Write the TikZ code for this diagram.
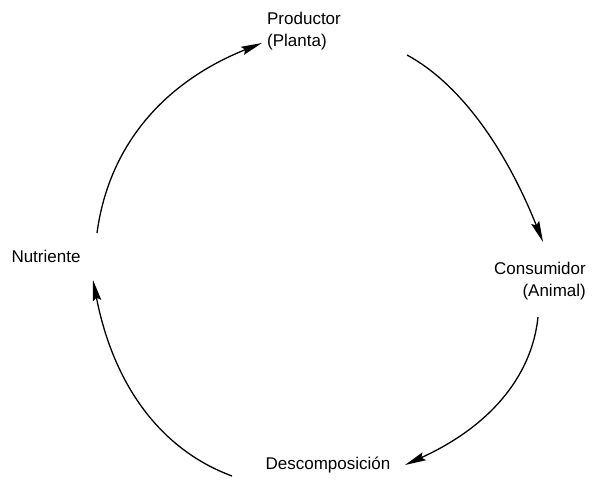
\documentclass[tikz,border=0pt]{standalone}
\usepackage{fontspec}
\setmainfont{Liberation Sans}
\usetikzlibrary{arrows.meta}
\begin{document}
\begin{tikzpicture}[x=1pt,y=-1pt,
  lbl/.style={inner sep=0pt, font=\fontsize{17}{22}\selectfont},
  cyc/.style={line width=1.3pt, -{Stealth[length=21pt,width=8.5pt,inset=3pt]}}]
\useasboundingbox (0,0) rectangle (610,481);
\node[lbl, align=left]  (prod) at (304,31) {Productor\\(Planta)};
\node[lbl, align=right] (cons) at (540,281) {Consumidor\\(Animal)};
\node[lbl]              (desc) at (328,465) {Descomposición};
\node[lbl]              (nut)  at (46,256)  {Nutriente};
% arc end points
\coordinate (a1) at (97,233);  \coordinate (b1) at (262,43);
\coordinate (a2) at (407,55);  \coordinate (b2) at (543,242);
\coordinate (a3) at (538,317); \coordinate (b3) at (405,465);
\coordinate (a4) at (232,476); \coordinate (b4) at (93,280);
\draw[cyc] (a1) .. controls (108.7,145.7) and (163.7,82.3) .. (b1);
\draw[cyc] (a2) .. controls (459,83.3) and (504.3,145.7) .. (b2);
\draw[cyc] (a3) .. controls (531.7,378.3) and (487.3,427.7) .. (b3);
\draw[cyc] (a4) .. controls (159.7,449.3) and (113.3,384) .. (b4);
\end{tikzpicture}
\end{document}
